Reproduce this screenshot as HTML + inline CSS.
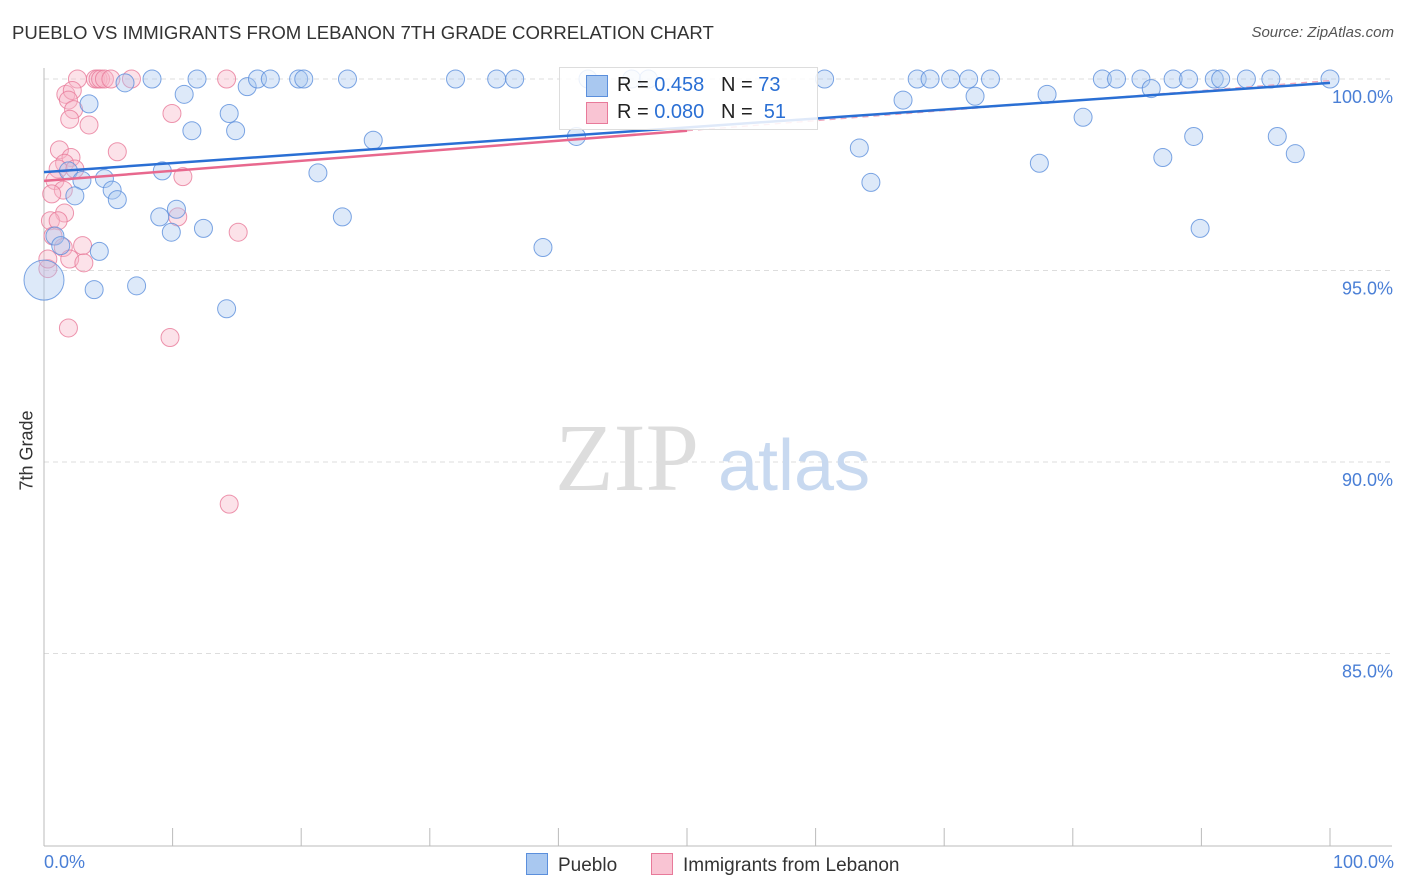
<!DOCTYPE html>
<html><head><meta charset="utf-8">
<style>
body{margin:0;background:#fff;font-family:"Liberation Sans",sans-serif;}
#c{position:relative;width:1406px;height:892px;}
.t{position:absolute;white-space:nowrap;}
</style></head><body>
<div id="c">
<div class="t" style="left:12px;top:22px;font-size:18.6px;color:#333;">PUEBLO VS IMMIGRANTS FROM LEBANON 7TH GRADE CORRELATION CHART</div>
<div class="t" style="right:12px;top:24px;font-size:15px;color:#555;font-style:italic;">Source: ZipAtlas.com</div>
<div class="t" style="left:-8px;top:445px;font-size:18px;color:#333;transform:rotate(-90deg);transform-origin:center;width:70px;text-align:center;">7th Grade</div>
<svg id="s" width="1406" height="892" style="position:absolute;left:0;top:0"></svg>
</div>
<script>
const blueX=[6.3,8.4,11.9,10.9,3.5,11.5,14.4,14.9,15.8,16.6,17.6,19.8,20.2,23.6,25.6,32,35.2,36.6,41.4,42.3,45.7,47,60.7,63.4,64.3,66.8,67.9,68.9,70.5,71.9,72.4,73.6,78,77.4,80.8,82.3,83.4,85.3,86.1,87,87.8,89,89.4,89.9,91,91.5,93.5,95.9,95.4,97.3,100,1.9,2.95,2.4,4.7,5.3,5.7,9.2,9,10.3,9.9,12.4,21.3,23.2,38.8,4.3,3.9,7.2,14.2,0,0.85,1.3];
const blueY=[99.9,100,100,99.6,99.35,98.65,99.1,98.65,99.8,100,100,100,100,100,98.4,100,100,100,98.5,100,100,100,100,98.2,97.3,99.45,100,100,100,100,99.55,100,99.6,97.8,99,100,100,100,99.75,97.95,100,100,98.5,96.1,100,100,100,98.5,100,98.05,100,97.6,97.35,96.95,97.4,97.1,96.85,97.6,96.4,96.6,96,96.1,97.55,96.4,95.6,95.5,94.5,94.6,94,94.75,95.9,95.65];
const blueR=[9,9,9,9,9,9,9,9,9,9,9,9,9,9,9,9,9,9,9,9,9,9,9,9,9,9,9,9,9,9,9,9,9,9,9,9,9,9,9,9,9,9,9,9,9,9,9,9,9,9,9,9,9,9,9,9,9,9,9,9,9,9,9,9,9,9,9,9,9,20,9,9];
const pinkX=[2.6,4,4.2,4.4,4.7,5.2,6.8,14.2,1.7,2.2,1.9,2.3,2,3.5,9.95,5.7,10.8,15.1,1.2,2.1,1.6,1.1,0.85,1.5,0.6,1.6,0.5,1.1,0.7,1.5,3,2,3.1,0.3,1.9,9.8,14.4,10.4,2.4,0.3];
const pinkY=[100,100,100,100,100,100,100,100,99.6,99.7,99.45,99.2,98.95,98.8,99.1,98.1,97.45,96,98.15,97.95,97.8,97.65,97.35,97.1,97,96.5,96.3,96.3,95.9,95.6,95.65,95.3,95.2,95.05,93.5,93.25,88.9,96.4,97.65,95.3];
const blueLine=[[0,97.57],[100,99.9]];
const pinkLine=[[0,97.34],[50,98.65]];
const pinkDash=[[50,98.65],[100,99.96]];
const yTicks=[100,95,90,85];
const yTickLabels=["100.0%","95.0%","90.0%","85.0%"];
const xTicks=[0,10,20,30,40,50,60,70,80,90,100];

const X=v=>44+v*12.86, Y=v=>79+(100-v)*38.3;
const s=document.getElementById('s'),NS='http://www.w3.org/2000/svg';
function el(t,a){const e=document.createElementNS(NS,t);for(const k in a)e.setAttribute(k,a[k]);s.appendChild(e);return e;}
yTicks.forEach((v,i)=>{const g=el('line',{x1:44,x2:1392,y1:Y(v),y2:Y(v),stroke:'#ddd','stroke-dasharray':'5,4'});


const t=el('text',{x:1393,y:Y(v)+24,'text-anchor':'end','font-size':18,fill:'#4a7fd6','font-family':'Liberation Sans'});t.textContent=yTickLabels[i];

});
let ax=el('line',{x1:44,x2:44,y1:68,y2:846,stroke:'#bbb'});


ax=el('line',{x1:44,x2:1392,y1:846,y2:846,stroke:'#bbb'});


xTicks.forEach(v=>{const l=el('line',{x1:X(v),x2:X(v),y1:828,y2:846,stroke:'#bbb'});

});
let wm=el('text',{x:555,y:490,'font-size':96,fill:'#ddd','font-family':'Liberation Serif'});wm.textContent='ZIP';


wm=el('text',{x:718,y:490,'font-size':72,fill:'#c8d9f0','font-family':'Liberation Sans'});wm.textContent='atlas';


function dots(xs,ys,rs,fill,stroke,name){xs.forEach((x,i)=>{const c=el('circle',{cx:X(x),cy:Y(ys[i]),r:rs?rs[i]:9,fill:fill,stroke:stroke,'stroke-width':1,'fill-opacity':0.4,'stroke-opacity':0.8});

});}
dots(pinkX,pinkY,null,'#f7b6c8','#e87a9a','lebanon-point');
dots(blueX,blueY,blueR,'#a9c8f0','#5b8fdc','pueblo-point');
function line(p,stroke,w,dash,name){const l=el('line',{x1:X(p[0][0]),y1:Y(p[0][1]),x2:X(p[1][0]),y2:Y(p[1][1]),stroke:stroke,'stroke-width':w});if(dash)l.setAttribute('stroke-dasharray',dash);

}
line(pinkDash,'#f0a8bc',1.3,'6,5','lebanon-trend-extension');
line(pinkLine,'#e8688e',2.5,null,'lebanon-trend');
line(blueLine,'#2a6fd4',2.5,null,'pueblo-trend');
</script>
<div class="t" style="left:559px;top:67px;width:257px;height:61px;background:rgba(255,255,255,0.85);border:1px solid #ddd;"></div>
<div class="t" style="left:586px;top:75px;width:20px;height:20px;background:#a9c8f0;border:1px solid #5b8fdc;"></div>
<div class="t" style="left:617px;top:74px;font-size:20px;color:#222;">R = <span style="color:#2a6fd4">0.458</span>&nbsp;&nbsp;&nbsp;N = <span style="color:#2a6fd4">73</span></div>
<div class="t" style="left:586px;top:102px;width:20px;height:20px;background:#f9c4d3;border:1px solid #e87a9a;"></div>
<div class="t" style="left:617px;top:101px;font-size:20px;color:#222;">R = <span style="color:#2a6fd4">0.080</span>&nbsp;&nbsp;&nbsp;N = &nbsp;<span style="color:#2a6fd4">51</span></div>
<div class="t" style="left:44px;top:852px;font-size:18px;color:#4a7fd6;">0.0%</div>
<div class="t" style="right:12px;top:852px;font-size:18px;color:#4a7fd6;">100.0%</div>
<div class="t" style="left:526px;top:853px;font-size:19px;color:#333;"><span style="display:inline-block;width:20px;height:20px;background:#a9c8f0;border:1px solid #5b8fdc;vertical-align:-4px;margin-right:10px;"></span>Pueblo</div>
<div class="t" style="left:651px;top:853px;font-size:19px;color:#333;"><span style="display:inline-block;width:20px;height:20px;background:#f9c4d3;border:1px solid #e87a9a;vertical-align:-4px;margin-right:10px;"></span>Immigrants from Lebanon</div>
</body></html>
